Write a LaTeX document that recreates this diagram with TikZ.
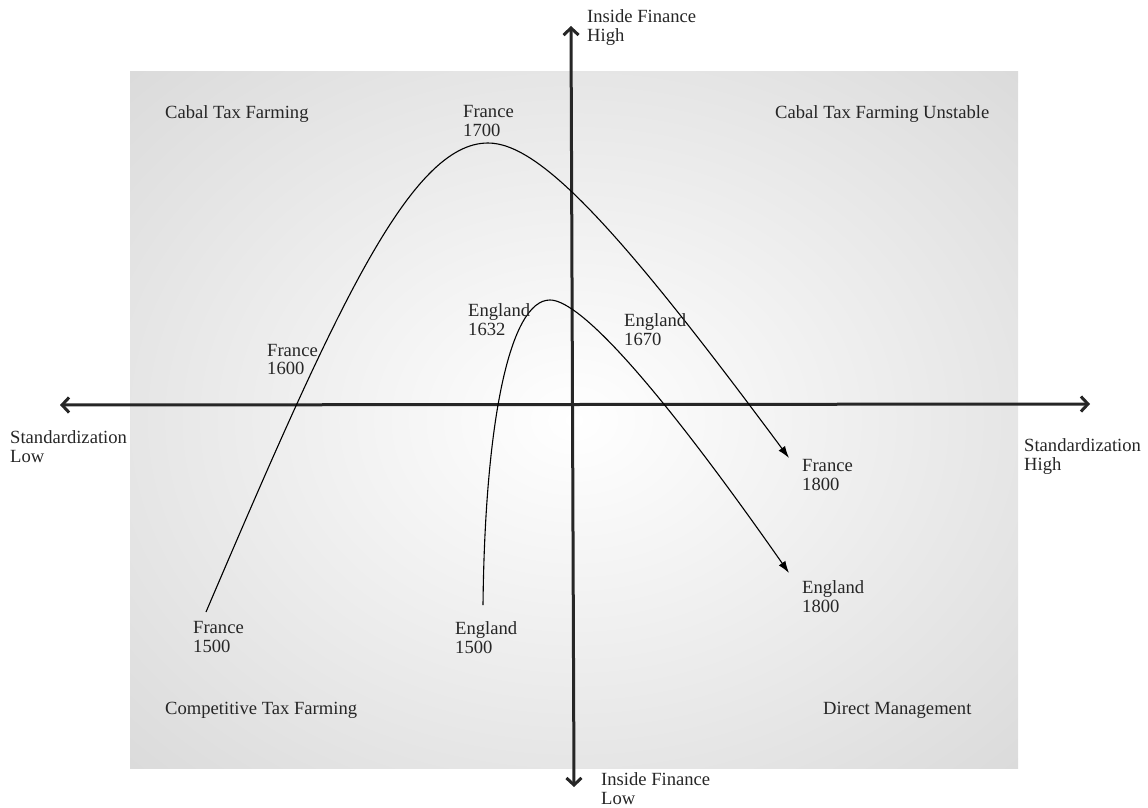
\documentclass[tikz,border=0pt]{standalone}
\usepackage{fontspec}
\setmainfont{Liberation Serif}
\usetikzlibrary{arrows.meta}
\pgfdeclareradialshading{panelglow}{\pgfpoint{0bp}{0bp}}{color(0bp)=(white); color(10bp)=(white!96!black); color(50bp)=(white!80!black); color(72bp)=(white!72!black)}

\begin{document}
\begin{tikzpicture}[x=1pt, y=-1pt,
		txt/.style={anchor=north west, inner sep=0pt, align=left, text=black!85, font=\fontsize{18.6}{18.6}\selectfont},
		axis/.style={line width=3pt, black!85, {Straight Barb[length=7pt,width=15pt]}-{Straight Barb[length=7pt,width=15pt]}},
		trend/.style={line width=1.1pt, black, -{Latex[length=12pt,width=8pt]}}]
		
		\useasboundingbox (0,0) rectangle (1148,808);
		\shade[shading=panelglow] (130,72) rectangle (1018,768);
		
		\coordinate (sLow) at (60,405);
		\coordinate (sHigh) at (1090,404);
		\coordinate (fHigh) at (571,26);
		\coordinate (fLow) at (574,787);
		\draw[axis] (sLow) -- (sHigh);
		\draw[axis] (fLow) -- (fHigh);
		
		\coordinate (fr1500) at (206,612);
		\coordinate (fr1700) at (488,143);
		\coordinate (fr1800) at (789,458);
		\draw[trend] (fr1500) .. controls (335,310) and (410,143) .. (fr1700)
			.. controls (540,143) and (620,230) .. (fr1800);
		
		\coordinate (en1500) at (483,605);
		\coordinate (en1632) at (550,300);
		\coordinate (en1800) at (789,573);
		\draw[trend] (en1500) .. controls (485,420) and (510,300) .. (en1632)
			.. controls (575,300) and (640,360) .. (en1800);
		
		\node[txt] (finHigh) at (587,9.5) {Inside Finance\\High};
		\node[txt] (finLow) at (601,772.5) {Inside Finance\\Low};
		\node[txt] (stdLow) at (10,430.5) {Standardization\\Low};
		\node[txt] (stdHigh) at (1024,438.5) {Standardization\\High};
		
		\node[txt] (cabal) at (165,105.5) {Cabal Tax Farming};
		\node[txt] (unstable) at (775,105.5) {Cabal Tax Farming Unstable};
		\node[txt] (competitive) at (165,701.5) {Competitive Tax Farming};
		\node[txt] (direct) at (823,701.5) {Direct Management};
		
		\node[txt] (lblFr1500) at (193,621.5) {France\\1500};
		\node[txt] (lblFr1600) at (267,344) {France\\1600};
		\node[txt] (lblFr1700) at (463,105.5) {France\\1700};
		\node[txt] (lblFr1800) at (802,459.5) {France\\1800};
		\node[txt] (lblEn1500) at (455,621.5) {England\\1500};
		\node[txt] (lblEn1632) at (468,303.5) {England\\1632};
		\node[txt] (lblEn1670) at (624,313.5) {England\\1670};
		\node[txt] (lblEn1800) at (802,580.5) {England\\1800};
		
		\end{tikzpicture}
\end{document}
